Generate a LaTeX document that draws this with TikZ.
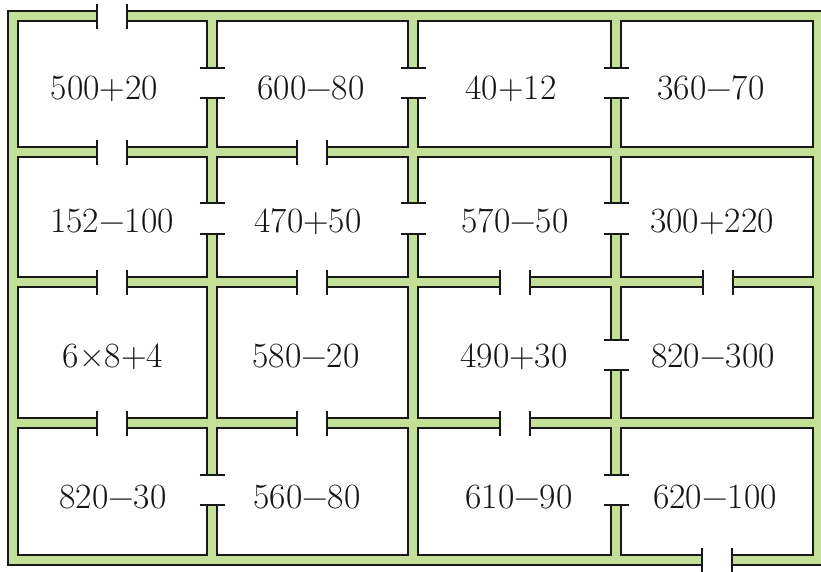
\documentclass[tikz,border=0pt]{standalone}
\definecolor{wallgreen}{RGB}{196,224,152}
\definecolor{inkgray}{RGB}{20,20,20}
\tikzset{
  wallblack/.style={draw=black!90, line width=12pt, line cap=butt, line join=miter},
  wallgreen/.style={draw=wallgreen, line width=8.4pt, line cap=butt, line join=miter},
  doorcap/.style={draw=black!90, line width=1.8pt},
  lbl/.style={font=\fontsize{35.5}{40}\selectfont, text=inkgray, anchor=base, inner sep=0pt}
}
\begin{document}
\begin{tikzpicture}[x=1pt,y=-1pt]
\useasboundingbox (0,0) rectangle (821,571);
\fill[white] (0,0) rectangle (821,571);
\foreach \st in {wallblack,wallgreen}{
  % outer frame
  \draw[\st] (127,16) -- (818,16) -- (818,560) -- (732,560);
  \draw[\st] (97,16) -- (13,16) -- (13,560) -- (702,560);
  % vertical walls
  \draw[\st] (212,16) -- (212,68) (212,98) -- (212,203) (212,234) -- (212,475) (212,505) -- (212,560);
  \draw[\st] (413,16) -- (413,68) (413,98) -- (413,203) (413,234) -- (413,560);
  \draw[\st] (616,16) -- (616,68) (616,98) -- (616,203) (616,234) -- (616,340) (616,370) -- (616,475) (616,505) -- (616,560);
  % horizontal walls
  \draw[\st] (13,152) -- (97,152) (127,152) -- (297,152) (327,152) -- (818,152);
  \draw[\st] (13,282) -- (97,282) (127,282) -- (297,282) (327,282) -- (500,282) (530,282) -- (703,282) (733,282) -- (818,282);
  \draw[\st] (13,423) -- (97,423) (127,423) -- (297,423) (327,423) -- (500,423) (530,423) -- (818,423);
}
% door caps on horizontal walls
\foreach \cx in {97,127} {\draw[doorcap] (\cx,3.5) -- (\cx,28.5);}
\foreach \cx in {97,127,297,327} {\draw[doorcap] (\cx,139.5) -- (\cx,164.5);}
\foreach \cx in {97,127,297,327,500,530,703,733} {\draw[doorcap] (\cx,269.5) -- (\cx,294.5);}
\foreach \cx in {97,127,297,327,500,530} {\draw[doorcap] (\cx,410.5) -- (\cx,435.5);}
\foreach \cx in {702,732} {\draw[doorcap] (\cx,547.5) -- (\cx,572.5);}
% door caps on vertical walls
\foreach \cy in {68,98,203,234,475,505} {\draw[doorcap] (199.5,\cy) -- (224.5,\cy);}
\foreach \cy in {68,98,203,234} {\draw[doorcap] (400.5,\cy) -- (425.5,\cy);}
\foreach \cy in {68,98,203,234,340,370,475,505} {\draw[doorcap] (603.5,\cy) -- (628.5,\cy);}
% labels
\node[lbl] (t11) at (104.5,99) {500+20};
\node[lbl] (t12) at (311,99) {600−80};
\node[lbl] (t13) at (511,99) {40+12};
\node[lbl] (t14) at (711,99) {360−70};
\node[lbl] (t21) at (112,232) {152−100};
\node[lbl] (t22) at (308,232) {470+50};
\node[lbl] (t23) at (515,232) {570−50};
\node[lbl] (t24) at (712,232) {300+220};
\node[lbl] (t31) at (113,367) {6×8+4};
\node[lbl] (t32) at (306,367) {580−20};
\node[lbl] (t33) at (514,367) {490+30};
\node[lbl] (t34) at (713,367) {820−300};
\node[lbl] (t41) at (113,508) {820−30};
\node[lbl] (t42) at (307,508) {560−80};
\node[lbl] (t43) at (519,508) {610−90};
\node[lbl] (t44) at (715,508) {620−100};
\end{tikzpicture}
\end{document}
